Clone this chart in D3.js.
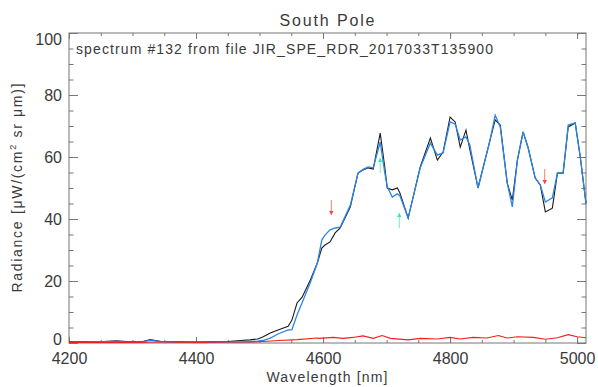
<html>
<head>
<meta charset="utf-8">
<script src="https://cdn.jsdelivr.net/npm/d3@7"></script>
<style>
  body { margin: 0; background: #fff; }
  text { font-family: 'Liberation Sans', Arial, sans-serif; fill: #3a3a3a; }
</style>
</head>
<body>
<div id="chart"></div>
<script>
  // spectrum samples
  var wavelength = [4200, 4230, 4255, 4275, 4295, 4315, 4328, 4345, 4370, 4400, 4425, 4450, 4470, 4485, 4497,
    4505, 4517, 4529, 4545, 4551, 4559, 4567, 4580, 4591, 4598, 4603, 4611, 4619, 4627, 4643, 4655, 4663,
    4671, 4679, 4690, 4697, 4701, 4709, 4717, 4721, 4734, 4753, 4769, 4780, 4789, 4800, 4808, 4816, 4825,
    4831, 4844, 4863, 4871, 4879, 4890, 4898, 4906, 4915, 4923, 4934, 4942, 4950, 4961, 4969, 4978, 4986,
    4997, 5005, 5014];
  var measured = [0.4, 0.4, 0.5, 0.7, 0.4, 0.4, 1.1, 0.5, 0.4, 0.3, 0.4, 0.5, 0.8, 1.0, 1.3,
    1.9, 3.2, 4.2, 5.4, 7.4, 12.9, 14.8, 20.3, 25.8, 30.6, 31.6, 32.6, 35.5, 37.1, 43.9, 54.8, 55.8,
    56.5, 56.1, 67.7, 57.0, 50.0, 49.4, 50.0, 48.4, 40.3, 56.8, 66.1, 59.0, 61.6, 72.9, 71.3, 63.2, 68.7,
    62.5, 50.0, 65.5, 72.0, 70.3, 51.6, 46.1, 59.0, 68.1, 62.9, 53.2, 51.0, 42.3, 43.5, 54.8, 54.8, 69.7,
    71.0, 60.0, 45.0];
  var fitted = [0.3, 0.3, 0.4, 0.5, 0.3, 0.3, 0.9, 0.4, 0.3, 0.3, 0.3, 0.3, 0.3, 0.4, 0.6,
    0.8, 1.6, 2.9, 4.2, 4.3, 9.0, 13.0, 19.5, 25.8, 33.2, 34.8, 36.5, 37.1, 37.4, 44.5, 54.8, 56.0,
    56.8, 56.5, 64.8, 55.2, 50.5, 47.1, 48.1, 47.5, 40.3, 56.5, 64.5, 60.6, 61.3, 71.3, 70.6, 65.5, 66.5,
    64.0, 50.0, 65.5, 73.5, 69.7, 51.6, 43.9, 59.0, 68.1, 62.9, 53.2, 51.0, 45.5, 46.8, 54.8, 54.8, 70.3,
    71.0, 60.0, 45.0];

  // difference curve
  var noiseWl = [4200, 4250, 4300, 4350, 4400, 4450, 4480, 4500, 4530, 4560, 4590, 4595, 4616, 4631, 4647,
    4663, 4679, 4693, 4706, 4734, 4753, 4780, 4800, 4816, 4836, 4858, 4876, 4890, 4906, 4931, 4950, 4969,
    4986, 5000, 5014];
  var noise = [0.2, 0.2, 0.2, 0.3, 0.2, 0.3, 0.3, 0.4, 0.8, 1.1, 1.6, 1.5, 1.8, 1.5, 1.8,
    2.3, 1.5, 2.4, 1.5, 1.0, 1.5, 1.3, 1.8, 1.3, 1.8, 1.6, 2.4, 1.6, 2.0, 1.8, 1.2, 1.7,
    2.7, 2.0, 1.7];

  // markers
  var redArrowWl = [4613, 4949];
  var redArrowTip = [41.3, 51.3];
  var greenArrowWl = [4690, 4720];
  var greenArrowTip = [59.7, 41.9];

  var xTicks = [4200, 4400, 4600, 4800, 5000];
  var yTicks = [0, 20, 40, 60, 80, 100];

  var W = 598, H = 387;
  var boxL = 69, boxR = 586, boxT = 33, boxB = 343;

  var svg = d3.select('#chart').append('svg')
      .attr('width', W)
      .attr('height', H);

  var x = d3.scaleLinear().domain([4200, 5014]).range([boxL, boxR]);
  var y = d3.scaleLinear().domain([0, 100]).range([boxB, boxT]);

  var xMinor = d3.range(4200, 5014, 50);
  var yMinor = d3.range(0, 101, 5);

  // box
  svg.append('rect')
      .attr('x', boxL).attr('y', boxT)
      .attr('width', boxR - boxL).attr('height', boxB - boxT)
      .attr('fill', 'none').attr('stroke', '#777').attr('stroke-width', 1);

  function styleAxis(g) {
    g.select('.domain').remove();
    g.selectAll('.tick line').attr('stroke', '#777');
    g.selectAll('text').attr('font-size', 16).attr('fill', '#3a3a3a')
      .attr('font-family', "'Liberation Sans', Arial, sans-serif");
  }

  // x axes
  svg.append('g').attr('transform', 'translate(0,' + boxB + ')')
      .call(d3.axisBottom(x).tickValues(xMinor).tickSize(-3).tickFormat(''))
      .call(styleAxis);
  svg.append('g').attr('transform', 'translate(0,' + boxB + ')')
      .call(d3.axisBottom(x).tickValues(xTicks).tickSize(-6).tickPadding(10).tickFormat(d3.format('d')))
      .call(styleAxis);
  svg.append('g').attr('transform', 'translate(0,' + boxT + ')')
      .call(d3.axisTop(x).tickValues(xMinor).tickSize(-3).tickFormat(''))
      .call(styleAxis);
  svg.append('g').attr('transform', 'translate(0,' + boxT + ')')
      .call(d3.axisTop(x).tickValues(xTicks).tickSize(-6).tickFormat(''))
      .call(styleAxis);

  // y axes
  svg.append('g').attr('transform', 'translate(' + boxL + ',0)')
      .call(d3.axisLeft(y).tickValues(yMinor).tickSize(-4.5).tickFormat(''))
      .call(styleAxis);
  var yAxis = svg.append('g').attr('transform', 'translate(' + boxL + ',0)')
      .call(d3.axisLeft(y).tickValues(yTicks).tickSize(-9).tickPadding(7).tickFormat(d3.format('d')))
      .call(styleAxis);
  // end labels sit inside the box like the original
  yAxis.selectAll('.tick text')
      .attr('dy', function (d) { return d === 100 ? '0.7em' : (d === 0 ? '0.1em' : '0.32em'); });
  svg.append('g').attr('transform', 'translate(' + boxR + ',0)')
      .call(d3.axisRight(y).tickValues(yMinor).tickSize(-4.5).tickFormat(''))
      .call(styleAxis);
  svg.append('g').attr('transform', 'translate(' + boxR + ',0)')
      .call(d3.axisRight(y).tickValues(yTicks).tickSize(-9).tickFormat(''))
      .call(styleAxis);

  // curves
  var line = d3.line()
      .x(function (d) { return x(d[0]); })
      .y(function (d) { return y(d[1]); });

  var plot = svg.append('g');
  plot.append('path')
      .datum(d3.zip(wavelength, measured))
      .attr('d', line)
      .attr('fill', 'none').attr('stroke', '#1a1a1a').attr('stroke-width', 1.1);
  plot.append('path')
      .datum(d3.zip(wavelength, fitted))
      .attr('d', line)
      .attr('fill', 'none').attr('stroke', '#2a86e8').attr('stroke-width', 1.3);
  plot.append('path')
      .datum(d3.zip(noiseWl, noise))
      .attr('d', line)
      .attr('fill', 'none').attr('stroke', '#f02020').attr('stroke-width', 1.1);

  // arrows
  function arrow(wl, tip, dir, color) {
    var px = x(wl), py = y(tip);
    var len = 15;
    var tail = py - dir * len;
    plot.append('line')
        .attr('x1', px).attr('x2', px)
        .attr('y1', tail).attr('y2', py)
        .attr('stroke', color).attr('stroke-width', 1).attr('opacity', 0.7);
    plot.append('path')
        .attr('d', 'M' + (px - 2.2) + ',' + (py - dir * 4) + 'L' + px + ',' + py + 'L' + (px + 2.2) + ',' + (py - dir * 4) + 'Z')
        .attr('fill', color);
  }
  redArrowWl.forEach(function (w, i) { arrow(w, redArrowTip[i], 1, '#ff4040'); });
  greenArrowWl.forEach(function (w, i) { arrow(w, greenArrowTip[i], -1, '#3be8a0'); });

  // texts
  svg.append('text')
      .attr('x', 327).attr('y', 26)
      .attr('text-anchor', 'middle')
      .attr('font-size', 16)
      .attr('textLength', 95).attr('lengthAdjust', 'spacing')
      .text('South Pole');

  svg.append('text')
      .attr('x', 76).attr('y', 54)
      .attr('font-size', 14)
      .attr('textLength', 417).attr('lengthAdjust', 'spacing')
      .text('spectrum #132 from file JIR_SPE_RDR_2017033T135900');

  svg.append('text')
      .attr('x', 327).attr('y', 382)
      .attr('text-anchor', 'middle')
      .attr('font-size', 14)
      .attr('textLength', 121).attr('lengthAdjust', 'spacing')
      .text('Wavelength [nm]');

  var yl = svg.append('text')
      .attr('transform', 'translate(22,188) rotate(-90)')
      .attr('text-anchor', 'middle')
      .attr('font-size', 14)
      .attr('textLength', 209).attr('lengthAdjust', 'spacing');
  yl.append('tspan').text('Radiance [\u03bcW/(cm');
  yl.append('tspan').attr('font-size', 9).attr('dy', -6).text('2');
  yl.append('tspan').attr('dy', 6).text(' sr \u03bcm)]');
</script>
</body>
</html>
